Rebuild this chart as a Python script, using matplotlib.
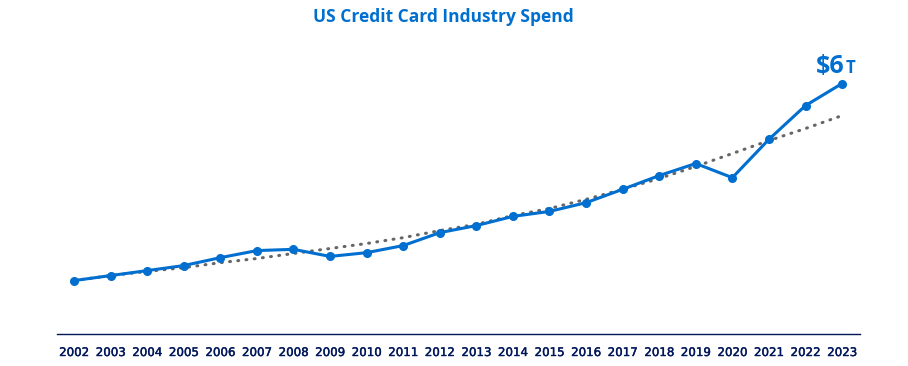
import matplotlib
matplotlib.use("Agg")
import matplotlib.pyplot as plt
import matplotlib.patheffects as pe

# values in trillions USD
years = list(range(2002, 2024))
spend = [1.27, 1.39, 1.51, 1.63, 1.82, 1.99, 2.02, 1.85, 1.94, 2.11, 2.42,
         2.59, 2.81, 2.93, 3.14, 3.46, 3.79, 4.08, 3.74, 4.66, 5.47, 6.00]
trend = [1.27, 1.39, 1.49, 1.58, 1.70, 1.80, 1.92, 2.04, 2.16, 2.30, 2.47,
         2.62, 2.83, 3.00, 3.22, 3.46, 3.72, 4.01, 4.32, 4.63, 4.92, 5.23]
title = "US Credit Card Industry Spend"

BLUE = "#006fcf"
NAVY = "#00175a"
GREY = "#666666"

plt.rcParams["font.family"] = ["Open Sans", "DejaVu Sans"]

fig = plt.figure(figsize=(9.08, 3.66), dpi=100)
ax = fig.add_axes([57 / 908, 32.5 / 366, 803 / 908, 293.5 / 366])

ax.plot(years, trend, color=GREY, lw=2.2, ls=(0, (0.3, 2.4)), dash_capstyle="round", zorder=2)
ax.plot(years, spend, color=BLUE, lw=2.2, marker="o", ms=5.5, zorder=3)

ax.set_xlim(2001.535, 2023.49)
ax.set_ylim(0, 7.044)
ax.set_xticks(years)
ax.set_xticklabels([str(y) for y in years], fontsize=8.5, family="DejaVu Sans", color=NAVY)
for lab in ax.get_xticklabels():
    lab.set_path_effects([pe.withStroke(linewidth=0.3, foreground=NAVY)])
ax.tick_params(axis="x", length=0, pad=9)
ax.set_yticks([])
for side in ("top", "right", "left"):
    ax.spines[side].set_visible(False)
ax.spines["bottom"].set_color(NAVY)
ax.spines["bottom"].set_linewidth(1.0)

# end-of-line label
ax.annotate("$6", xy=(years[-1], spend[-1]), xytext=(2, 3), textcoords="offset points",
            ha="right", va="bottom", fontsize=18, fontweight="bold", color=BLUE)
ax.annotate("T", xy=(years[-1], spend[-1]), xytext=(2.5, 4.5), textcoords="offset points",
            ha="left", va="bottom", fontsize=12, fontweight="bold", color=BLUE)

fig.text(443 / 908, 1 - 17 / 366, title, ha="center", va="center",
         fontsize=12.5, fontweight="bold", color=BLUE)

fig.savefig("out.png", dpi=100, facecolor="white")
